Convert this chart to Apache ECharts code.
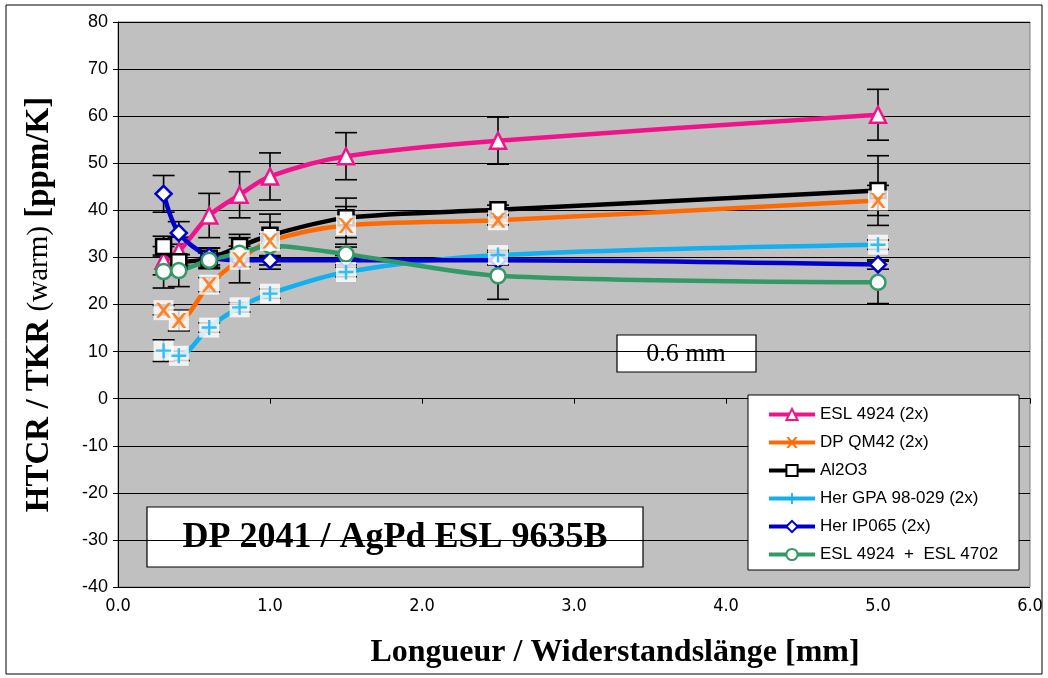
<!DOCTYPE html>
<html>
<head>
<meta charset="utf-8">
<script src="https://cdn.jsdelivr.net/npm/echarts@6/dist/echarts.min.js"></script>
<style>
  html, body { margin: 0; padding: 0; background: #fff; }
  #main { width: 1048px; height: 678px; }
</style>
</head>
<body>
<div id="main"></div>
<script>
// lengths [mm]
const lengths = [0.3, 0.4, 0.6, 0.8, 1.0, 1.5, 2.5, 5.0];

// HTCR values and error half-widths (ppm/K)
const esl4924 = [29.3, 31.3, 38.9, 43.3, 47.2, 51.5, 54.8, 60.3];
const esl4924Err = [3, 3, 4.7, 4.9, 5, 5, 5, 5.4];
const dpQm42 = [18.8, 16.6, 24.2, 29.5, 33.5, 36.8, 37.9, 42.1];
const dpQm42Err = [1, 2.2, 1.5, 1.5, 1.5, 4, 1, 3.2];
const al2o3 = [32.3, 29.1, 29.8, 32.3, 34.7, 38.4, 40.1, 44.2];
const al2o3Err = [2.2, 1.5, 2.2, 2.6, 4.5, 4.2, 1, 7.4];
const herGpa = [10.2, 9.1, 15.1, 19.4, 22.3, 26.9, 30.5, 32.7];
const herGpaErr = [2.3, 1, 1, 1, 1, 1, 1, 1];
const herIp065 = [43.5, 35.2, 30.2, 29.4, 29.4, 29.4, 29.4, 28.5];
const herIp065Err = [3.9, 2.4, 1.8, 4.8, 1, 1, 1, 1];
const esl4924b = [27.0, 27.2, 29.4, 30.9, 32.5, 30.7, 26.1, 24.7];
const esl4924bErr = [3.5, 3.4, 1.5, 1.5, 5, 1.5, 5, 4.5];

const yTicks = { min: -40, max: 80, interval: 10 };
const xTicks = { min: 0, max: 6, interval: 1 };

const names = ['ESL 4924 (2x)', 'DP QM42 (2x)', 'Al2O3', 'Her GPA 98-029 (2x)', 'Her IP065 (2x)', 'ESL 4924  +  ESL 4702'];

const xPath = 'path://M0,0L2,0L5,3.4L8,0L10,0L6.2,5L10,10L8,10L5,6.6L2,10L0,10L3.8,5Z';
const plusPath = 'path://M4.2,0H5.8V4.2H10V5.8H5.8V10H4.2V5.8H0V4.2H4.2Z';

function pts(vals) {
  return lengths.map((x, i) => [x, vals[i]]);
}
function errPts(vals, errs) {
  return lengths.map((x, i) => [x, vals[i], errs[i]]);
}

function errorSeries(vals, errs) {
  return {
    type: 'custom',
    z: 1,
    silent: true,
    data: errPts(vals, errs),
    renderItem: function (params, api) {
      const top = api.coord([api.value(0), api.value(1) + api.value(2)]);
      const bot = api.coord([api.value(0), api.value(1) - api.value(2)]);
      const w = 11;
      const st = { stroke: '#000', lineWidth: 1.6 };
      return {
        type: 'group',
        children: [
          { type: 'line', shape: { x1: top[0], y1: top[1], x2: bot[0], y2: bot[1] }, style: st },
          { type: 'line', shape: { x1: top[0] - w, y1: top[1], x2: top[0] + w, y2: top[1] }, style: st },
          { type: 'line', shape: { x1: bot[0] - w, y1: bot[1], x2: bot[0] + w, y2: bot[1] }, style: st }
        ]
      };
    }
  };
}

function lineSeries(name, vals, color, symbol, size, hollow) {
  return {
    name: name,
    type: 'line',
    z: 2,
    smooth: 0.3,
    data: pts(vals),
    symbol: symbol,
    symbolSize: size,
    lineStyle: { color: color, width: 4.5 },
    itemStyle: hollow
      ? { color: '#fff', borderColor: color, borderWidth: 2.5 }
      : { color: color, borderWidth: 0 },
    emphasis: { disabled: true }
  };
}

let myChart = echarts.init(document.getElementById('main'));

const series = [
  errorSeries(esl4924, esl4924Err),
  errorSeries(dpQm42, dpQm42Err),
  errorSeries(al2o3, al2o3Err),
  errorSeries(herGpa, herGpaErr),
  errorSeries(herIp065, herIp065Err),
  errorSeries(esl4924b, esl4924bErr),
  lineSeries(names[0], esl4924, '#F0148C', 'triangle', 16, true),
  lineSeries(names[1], dpQm42, '#FF6A00', xPath, 15, false),
  lineSeries(names[2], al2o3, '#000000', 'rect', 15, true),
  lineSeries(names[3], herGpa, '#12B0EE', plusPath, 15, false),
  lineSeries(names[4], herIp065, '#0000CC', 'diamond', 16, true),
  lineSeries(names[5], esl4924b, '#339966', 'circle', 15, true),
  // white boxes behind the X and + markers
  { type: 'scatter', z: 3, silent: true, symbol: 'rect', symbolSize: 20, itemStyle: { color: '#fff' }, data: pts(dpQm42).concat(pts(herGpa)) },
  { type: 'scatter', z: 4, silent: true, symbol: xPath, symbolSize: 15, itemStyle: { color: '#FF6A00' }, data: pts(dpQm42) },
  { type: 'scatter', z: 4, silent: true, symbol: plusPath, symbolSize: 15, itemStyle: { color: '#12B0EE' }, data: pts(herGpa) }
];

myChart.setOption({
  animation: false,
  backgroundColor: '#fff',
  grid: {
    left: 118, right: 18, top: 22, bottom: 91,
    show: true, backgroundColor: '#C0C0C0', borderColor: '#808080', borderWidth: 1
  },
  legend: {
    data: names,
    orient: 'vertical',
    left: 762, top: 401, z: 12,
    itemWidth: 46, itemHeight: 14, itemGap: 11,
    lineStyle: { width: 4 },
    textStyle: { fontFamily: 'Liberation Sans', fontSize: 17, color: '#000' }
  },
  xAxis: {
    type: 'value',
    min: xTicks.min, max: xTicks.max, interval: xTicks.interval,
    name: 'Longueur / Widerstandslänge [mm]',
    nameLocation: 'middle', nameGap: 50,
    nameTextStyle: { fontFamily: 'Liberation Serif', fontWeight: 'bold', fontSize: 32, color: '#000', padding: [0, 0, 0, 82] },
    axisLine: { lineStyle: { color: '#000', width: 1 } },
    axisTick: { show: true, length: 5, lineStyle: { color: '#000' } },
    axisLabel: {
      margin: 10, color: '#000', fontSize: 18,
      fontFamily: 'Liberation Sans Narrow, DejaVu Sans Condensed, Liberation Sans',
      formatter: v => v.toFixed(1)
    },
    splitLine: { show: false }
  },
  yAxis: {
    type: 'value',
    min: yTicks.min, max: yTicks.max, interval: yTicks.interval,
    name: '{b|HTCR / TKR }{n|(warm)}{b| [ppm/K]}',
    nameLocation: 'middle', nameGap: 62, nameRotate: 90,
    nameTextStyle: {
      rich: {
        b: { fontFamily: 'Liberation Serif', fontWeight: 'bold', fontSize: 33, color: '#000' },
        n: { fontFamily: 'Liberation Serif', fontSize: 29, color: '#000' }
      }
    },
    axisLine: { show: true, lineStyle: { color: '#000', width: 1 } },
    axisTick: { show: true, length: 5, lineStyle: { color: '#000' } },
    axisLabel: { margin: 10, color: '#000', fontSize: 18, fontFamily: 'Liberation Sans' },
    splitLine: { show: true, lineStyle: { color: '#000', width: 1 } }
  },
  graphic: [
    { type: 'rect', x: 6, y: 5, shape: { width: 1036, height: 669 }, style: { fill: 'none', stroke: '#000', lineWidth: 1 }, silent: true, z: 0 },
    { type: 'rect', x: 748, y: 395, shape: { width: 271, height: 175 }, style: { fill: '#fff', stroke: '#000', lineWidth: 1 }, z: 10 },
    {
      type: 'group', x: 617, y: 335, z: 10,
      children: [
        { type: 'rect', shape: { width: 139, height: 37 }, style: { fill: '#fff', stroke: '#000', lineWidth: 1.2 } },
        { type: 'text', x: 69, y: 19, style: { text: '0.6 mm', fontFamily: 'Liberation Serif', fontSize: 26, fill: '#000', align: 'center', verticalAlign: 'middle' } }
      ]
    },
    {
      type: 'group', x: 147, y: 507, z: 10,
      children: [
        { type: 'rect', shape: { width: 496, height: 60 }, style: { fill: '#fff', stroke: '#000', lineWidth: 1.2 } },
        { type: 'text', x: 248, y: 31, style: { text: 'DP 2041 / AgPd ESL 9635B', fontFamily: 'Liberation Serif', fontWeight: 'bold', fontSize: 36, fill: '#000', align: 'center', verticalAlign: 'middle' } }
      ]
    }
  ],
  series: series
});
</script>
</body>
</html>
